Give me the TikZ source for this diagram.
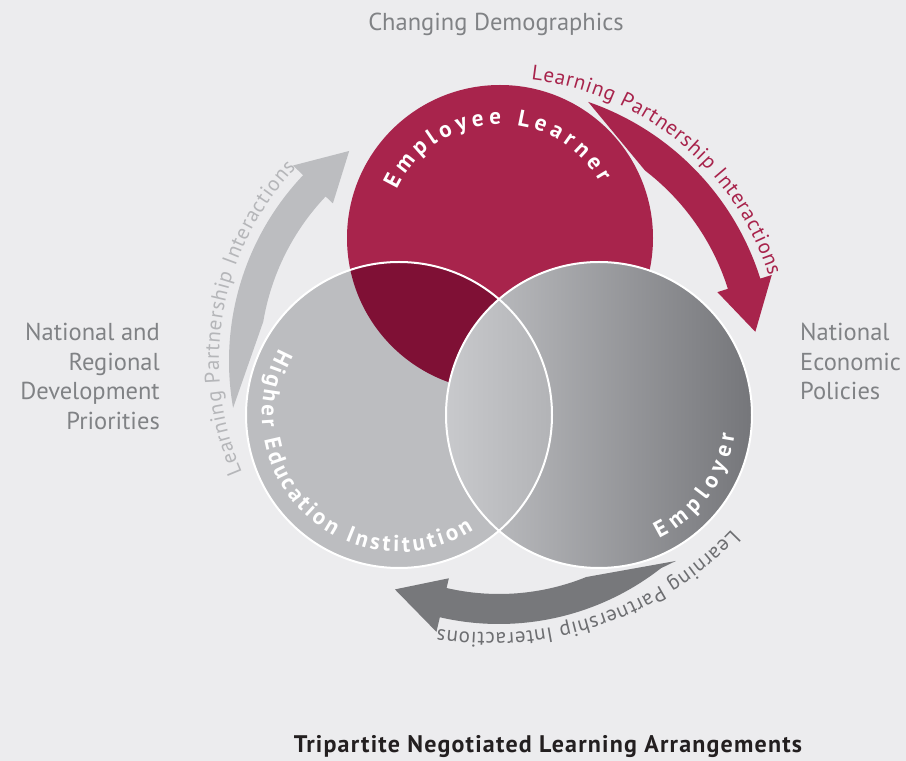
\documentclass[tikz,border=0pt]{standalone}
\usepackage{fontspec}
\setmainfont{PT Sans}
\usetikzlibrary{decorations.text,calc}
\definecolor{bg}{HTML}{ECECEE}
\definecolor{elred}{HTML}{A8244C}
\definecolor{eldark}{HTML}{7F1035}
\definecolor{hegray}{HTML}{BCBDC0}
\definecolor{emlight}{HTML}{C4C5C8}
\definecolor{emdark}{HTML}{75767A}
\definecolor{lenslight}{HTML}{C8C9CC}
\definecolor{lensdark}{HTML}{B2B3B6}
\definecolor{sidegray}{HTML}{808285}
\definecolor{arrowgray}{HTML}{BCBDC0}
\definecolor{arrowtextgray}{HTML}{B5B6B9}
\definecolor{darkarrow}{HTML}{77787B}
\definecolor{darkarrowtext}{HTML}{6D6E71}
\definecolor{titleblack}{HTML}{231F20}
\newcommand{\arcfont}{\fontsize{21}{25}\selectfont}
\newcommand{\labfont}{\fontsize{23}{27}\selectfont\bfseries}
\begin{document}
\begin{tikzpicture}[x=1pt,y=1pt,
  sidetext/.style={text=sidegray,font=\fontsize{24.5}{29}\selectfont,inner sep=0pt},
  outline/.style={draw=white,line width=2pt}]
\fill[bg] (0,0) rectangle (906,761);
\useasboundingbox (0,0) rectangle (906,761);
\coordinate (C) at (499,400);
\coordinate (CB) at (490,461);
\coordinate (EL) at (500,523);
\coordinate (HE) at (399,346);
\coordinate (EM) at (599,346);

% curved arrows
\begin{scope}[shift={(C)}]
\fill[elred] (71:274) arc[start angle=71,end angle=17.5,radius=274]
  -- (17.5:286) -- (6.5:258) -- (17.5:229) -- (17.5:240)
  arc[start angle=17.5,end angle=52.5,radius=240] -- cycle;
\fill[arrowgray] (190:270) arc[start angle=190,end angle=136.5,radius=270]
  -- (136.5:284) -- (125.5:258) -- (136.5:229) -- (136.5:239)
  arc[start angle=136.5,end angle=170.5,radius=239] -- cycle;
\fill[darkarrow] (311.5:267) -- (308:263) arc[start angle=308,end angle=257,radius=263]
  -- (257:278) -- (245.5:251) -- (257:223) -- (257:233)
  arc[start angle=257,end angle=292,radius=233] -- cycle;
\path[decorate,decoration={text along path,text color=elred,
   text={|\arcfont|Learning Partnership Interactions},text align={fit to path}}]
  (83.5:283) arc[start angle=83.5,end angle=17.5,radius=283];
\path[decorate,decoration={text along path,text color=arrowtextgray,
   text={|\arcfont|Learning Partnership Interactions},text align={fit to path}}]
  (203.5:280) arc[start angle=203.5,end angle=136.5,radius=280];
\end{scope}
\path[decorate,decoration={text along path,text color=darkarrowtext,
   text={|\arcfont|Learning Partnership Interactions},text align={fit to path}}]
  ($(CB)+(316.5:333)$) arc[start angle=316.5,end angle=261,radius=333];

% circles
\fill[elred] (EL) circle (153);
\fill[hegray] (HE) circle (153);
\begin{scope}
  \clip (HE) circle (153);
  \fill[eldark] (EL) circle (153);
\end{scope}
\shade[left color=emlight,right color=emdark] (EM) circle (153);
\begin{scope}
  \clip (HE) circle (153);
  \clip (EM) circle (153);
  \shade[left color=lenslight,right color=lensdark] (446,150) rectangle (553,560);
\end{scope}
\draw[outline] (HE) circle (153);
\draw[outline] (EM) circle (153);

% circle labels
\path[decorate,decoration={text along path,text color=white,
   text={|\labfont|Employee Learner},text align={fit to path}}]
  ($(EL)+(155:114)$) arc[start angle=155,end angle=29,radius=114];
\path[decorate,decoration={text along path,text color=white,
   text={|\labfont|Higher Education Institution},text align={fit to path}}]
  ($(HE)+(151:137)$) arc[start angle=151,end angle=303,radius=137];
\path[decorate,decoration={text along path,text color=white,
   text={|\labfont|Employer},text align={fit to path}}]
  ($(EM)+(296:137)$) arc[start angle=296,end angle=352,radius=137];

% side texts
\node[sidetext,anchor=base] (cd) at (496,730) {Changing Demographics};
\node[sidetext,anchor=base east] (l1) at (160,420) {National and};
\node[sidetext,anchor=base east] (l2) at (160,390.5) {Regional};
\node[sidetext,anchor=base east] (l3) at (160,361) {Development};
\node[sidetext,anchor=base east] (l4) at (160,331.5) {Priorities};
\node[sidetext,anchor=base west] (r1) at (800,420) {National};
\node[sidetext,anchor=base west] (r2) at (800,390.5) {Economic};
\node[sidetext,anchor=base west] (r3) at (800,361) {Policies};
\node[text=titleblack,font=\fontsize{24}{28}\selectfont\bfseries\addfontfeatures{LetterSpace=5},inner sep=0pt,anchor=base] (title) at (548,8) {Tripartite Negotiated Learning Arrangements};
\end{tikzpicture}
\end{document}
